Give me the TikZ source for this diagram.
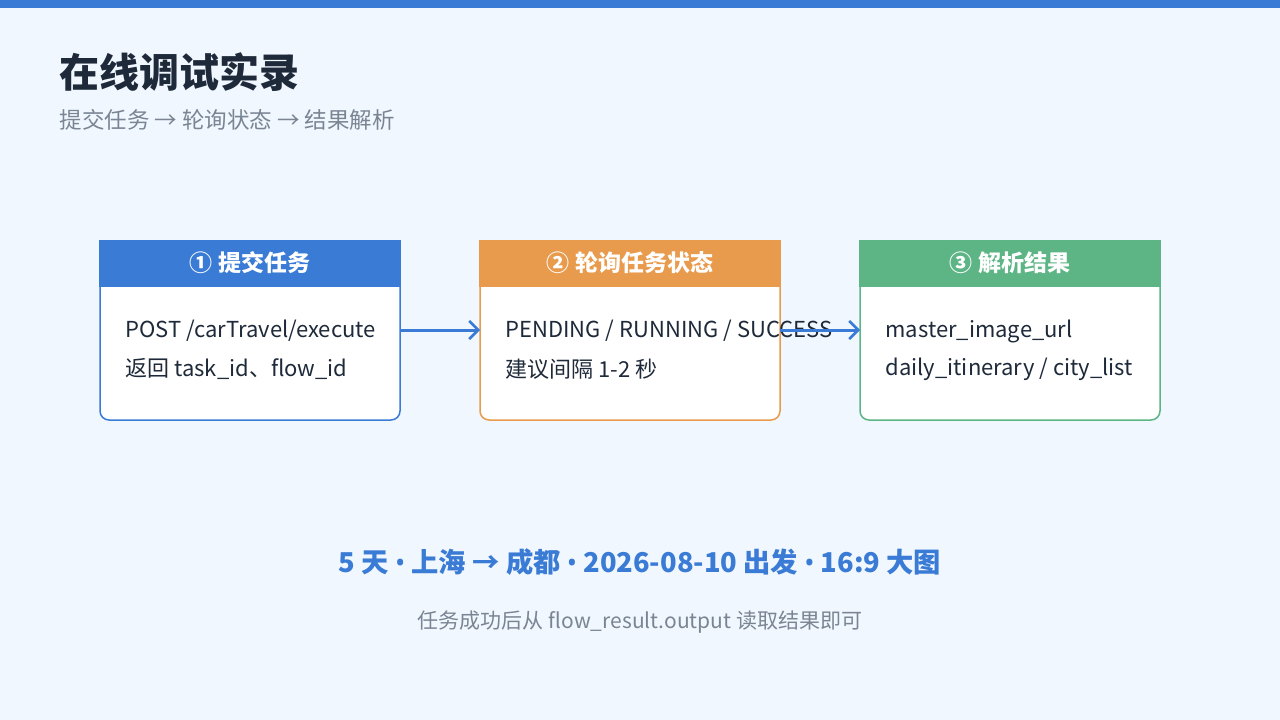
\documentclass[tikz,border=0pt]{standalone}
\usepackage{fontspec}
\setmainfont{Noto Sans CJK SC}
\newfontfamily\latn{Noto Sans}
\newcommand{\bul}{{\latn •}}
\usetikzlibrary{arrows.meta}
\definecolor{bg}{HTML}{F1F7FE}
\definecolor{bluec}{HTML}{3A7BD5}
\definecolor{orangec}{HTML}{E89B4C}
\definecolor{greenc}{HTML}{5DB585}
\definecolor{darkc}{HTML}{1E2A3A}
\definecolor{grayc}{HTML}{7A8594}
\begin{document}
\begin{tikzpicture}[x=1pt,y=-1pt,
  body/.style={font=\fontsize{22}{26}\selectfont,text=darkc,anchor=west},
  head/.style={font=\fontsize{23}{28}\selectfont\bfseries,text=white},
  conn/.style={draw=bluec,line width=3pt,-{Straight Barb[length=9pt,width=18pt,line width=2.5pt]}}]
\fill[bg] (0,0) rectangle (1280,720);
\useasboundingbox (0,0) rectangle (1280,720);
\fill[bluec] (0,0) rectangle (1280,8);
\node[anchor=west,font=\fontsize{40}{44}\selectfont\bfseries,text=darkc] (title) at (56,72) {在线调试实录};
\node[anchor=west,font=\fontsize{22.5}{26}\selectfont,text=grayc] (sub) at (56,120) {提交任务 → 轮询状态 → 结果解析};
\foreach \x/\c/\n/\h in {100/bluec/a/① 提交任务,480/orangec/b/② 轮询任务状态,860/greenc/c/③ 解析结果}{
  \draw[\c,fill=white,line width=1.5pt,rounded corners=9pt] (\x,287) -- (\x,420) -- (\x+300,420) -- (\x+300,287);
  \fill[\c] (\x-0.75,240) rectangle (\x+300.75,287);
  \node[head] (h\n) at (\x+150,263) {\h};
  \coordinate (L\n) at (\x,330);
  \coordinate (R\n) at (\x+300,330);
}
\node[body] (a1) at (122,331) {POST /carTravel/execute};
\node[body] (a2) at (122,369) {返回 task\_id、flow\_id};
\node[body] (b1) at (502,331) {PENDING / RUNNING / SUCCESS};
\node[body] (b2) at (502,369) {建议间隔 1-2 秒};
\node[body] (c1) at (882,331) {master\_image\_url};
\node[body] (c2) at (882,369) {daily\_itinerary / city\_list};
\draw[conn] (Ra) -- (Lb);
\draw[conn] (Rb) -- (Lc);
\node[font=\fontsize{27.3}{30}\selectfont\bfseries,text=bluec] (sum) at (640,562) {5 天 \bul{} 上海 → 成都 \bul{} 2026-08-10 出发 \bul{} 16:9 大图};
\node[font=\fontsize{21}{24}\selectfont,text=grayc] (note) at (640,622) {任务成功后从 flow\_result.output 读取结果即可};
\end{tikzpicture}
\end{document}
